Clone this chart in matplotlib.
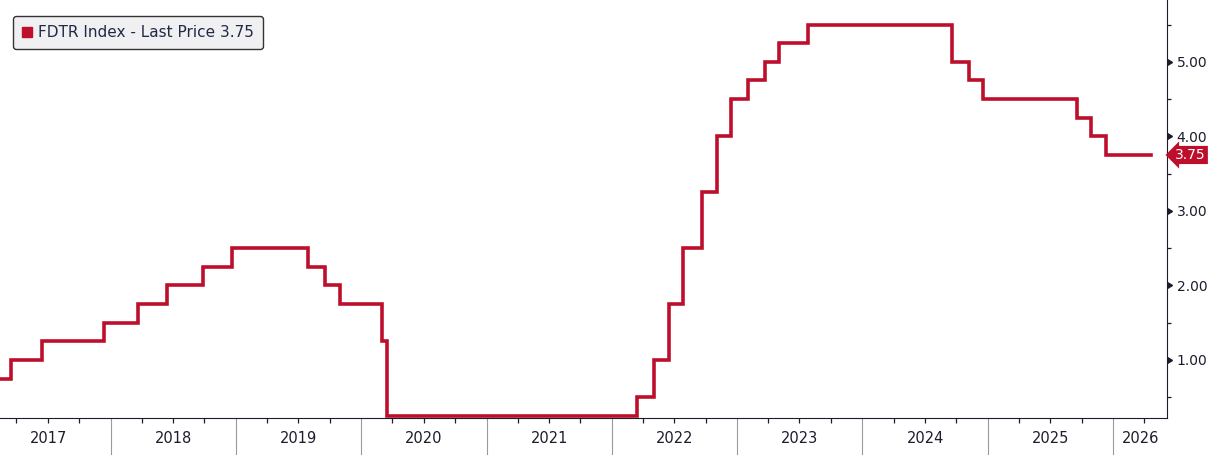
import matplotlib
matplotlib.use("Agg")
import matplotlib.pyplot as plt
import matplotlib.transforms as mtransforms
from matplotlib.lines import Line2D
import numpy as np
import pandas as pd

# Fed funds target (upper bound) - change dates and new levels
change_dates = ["2016-12-14", "2017-03-15", "2017-06-14", "2017-12-13",
                "2018-03-21", "2018-06-13", "2018-09-26", "2018-12-19",
                "2019-07-31", "2019-09-18", "2019-10-30", "2020-03-03",
                "2020-03-15", "2022-03-16", "2022-05-04", "2022-06-15",
                "2022-07-27", "2022-09-21", "2022-11-02", "2022-12-14",
                "2023-02-01", "2023-03-22", "2023-05-03", "2023-07-26",
                "2024-09-18", "2024-11-07", "2024-12-18", "2025-09-17",
                "2025-10-29", "2025-12-10"]
rate = [0.75, 1.00, 1.25, 1.50, 1.75, 2.00, 2.25, 2.50, 2.25, 2.00, 1.75, 1.25,
        0.25, 0.50, 1.00, 1.75, 2.50, 3.25, 4.00, 4.50, 4.75, 5.00, 5.25, 5.50,
        5.00, 4.75, 4.50, 4.25, 4.00, 3.75]
last_date = "2026-04-20"
last_price = 3.75

years = list(range(2017, 2027))
ytick_vals = [1, 2, 3, 4, 5]

red = "#bd0f2c"
dark = "#1c1c2c"

dates = pd.to_datetime(change_dates + [last_date])
vals = rate + [rate[-1]]

fig = plt.figure(figsize=(12.09, 4.55), dpi=100)
ax = fig.add_axes([0, 37 / 455, 1167 / 1209, 418 / 455])

ax.step(dates, vals, where="post", color=red, lw=2.6, solid_joinstyle="miter")

xmin = pd.Timestamp("2017-02-12")
xmax = pd.Timestamp("2026-06-07")
ax.set_xlim(xmin, xmax)
ax.set_ylim(0.22, 5.83)

# spines
for s in ["top", "left"]:
    ax.spines[s].set_visible(False)
ax.spines["right"].set_color(dark)
ax.spines["bottom"].set_color(dark)

# x axis: year separators (long grey) + quarter ticks
year_starts = [pd.Timestamp(f"{y}-01-01") for y in years if pd.Timestamp(f"{y}-01-01") > xmin]
quarters = [pd.Timestamp(f"{y}-{m:02d}-01") for y in range(2017, 2027) for m in (4, 7, 10)]
quarters = [q for q in quarters if xmin < q < xmax]
ax.set_xticks(year_starts)
ax.set_xticks(quarters, minor=True)
ax.tick_params(axis="x", which="major", length=27, width=0.8, color="#9a9a9a",
               labelbottom=False, direction="out")
ax.tick_params(axis="x", which="minor", length=3.5, width=0.9, color=dark, direction="out")

trans_x = mtransforms.blended_transform_factory(ax.transData, ax.transAxes)
for y in years:
    a = max(pd.Timestamp(f"{y}-01-01"), pd.Timestamp("2017-01-01"))
    b = min(pd.Timestamp(f"{y + 1}-01-01"), xmax)
    mid = a + (b - a) / 2
    ax.text(mid, -0.048, str(y), transform=trans_x, ha="center", va="center",
            fontsize=10.5, color=dark)

# y axis on the right
ax.yaxis.tick_right()
ax.set_yticks(ytick_vals)
ax.set_yticklabels([f"{v:.2f}" for v in ytick_vals], fontsize=10, color=dark)
ax.set_yticks(np.arange(0.5, 5.6, 1.0), minor=True)
ax.tick_params(axis="y", which="major", length=0, pad=7)
ax.tick_params(axis="y", which="minor", length=3, width=0.9, color=dark, direction="out")
trans_y = mtransforms.blended_transform_factory(ax.transAxes, ax.transData)
ax.plot([1.0045] * len(ytick_vals), ytick_vals, ls="none", marker=5, ms=5,
        color=dark, transform=trans_y, clip_on=False)

# last price tag
ax.text(1.007, last_price, f"{last_price:.2f}", transform=trans_y, ha="left", va="center",
        fontsize=10, color="white",
        bbox=dict(boxstyle="larrow,pad=0.15", fc=red, ec="none"))

# legend
handle = Line2D([], [], ls="none", marker="s", ms=7.5, color=red)
leg = ax.legend([handle], [f"FDTR Index - Last Price {last_price:.2f}"],
                loc="upper left", bbox_to_anchor=(0.0111, 0.962), borderaxespad=0,
                fontsize=11, frameon=True, fancybox=True, handlelength=0.7,
                handletextpad=0.35, borderpad=0.6, labelcolor="#1f2a44")
leg.get_frame().set_facecolor("#f0f0f2")
leg.get_frame().set_edgecolor("#333333")
leg.get_frame().set_alpha(1)
leg.get_frame().set_linewidth(1.0)

fig.savefig("out.png", dpi=100)
